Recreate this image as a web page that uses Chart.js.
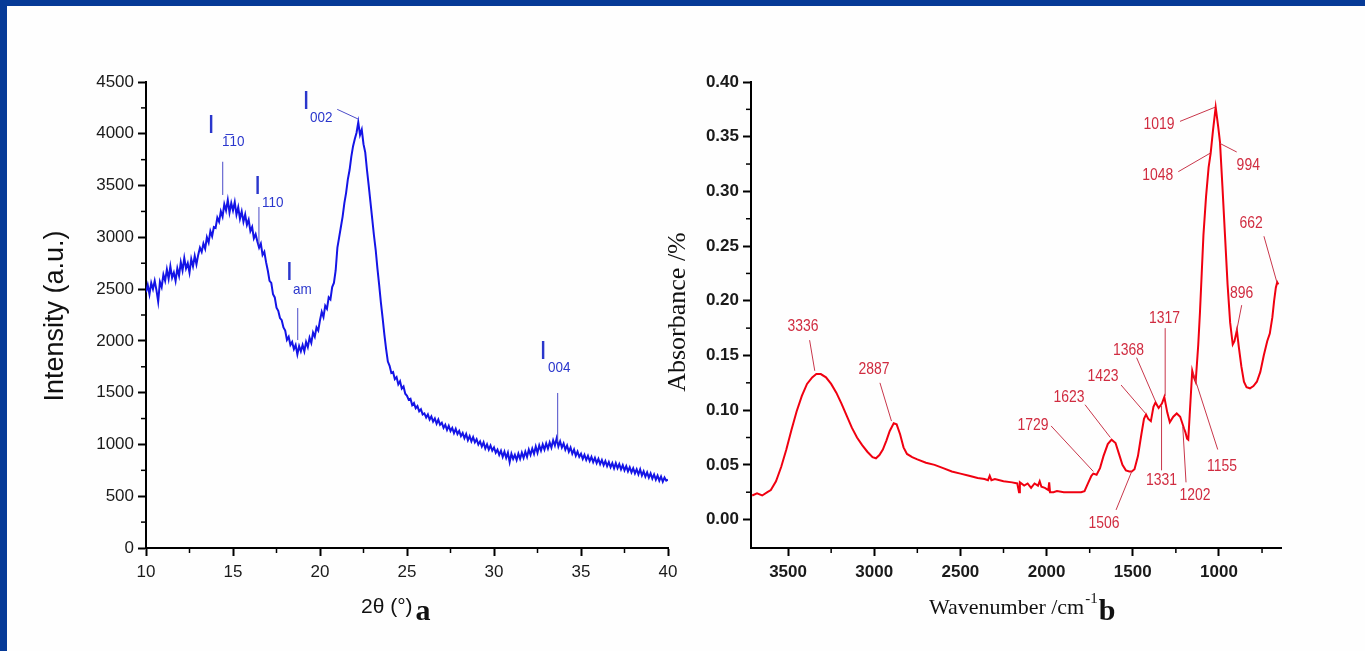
<!DOCTYPE html>
<html>
<head>
<meta charset="utf-8">
<script src="https://cdn.jsdelivr.net/npm/chart.js@4.4.0/dist/chart.umd.min.js"></script>
<style>
  html, body { margin: 0; padding: 0; }
  body { width: 1365px; height: 651px; background: #063a97; position: relative; overflow: hidden; }
  #panel { position: absolute; left: 7px; top: 6px; right: 0; bottom: 0; background: #fefefe; }
  canvas { position: absolute; top: 0; }
  #xrd { left: 0; }
  #ftir { left: 640px; }
</style>
</head>
<body>
<div id="panel"></div>
<canvas id="xrd" width="700" height="651"></canvas>
<canvas id="ftir" width="725" height="651"></canvas>
<script>
// (a) XRD pattern, one reading every 0.1 degree from 10 to 40
const xrdStart = 10;
const xrdStep = 0.1;
const xrdIntensity = [
  2470, 2540, 2450, 2560, 2500, 2580, 2490, 2380, 2570, 2520,
  2640, 2580, 2690, 2600, 2720, 2610, 2660, 2580, 2700, 2630,
  2760, 2680, 2800, 2700, 2750, 2660, 2790, 2720, 2820, 2740,
  2830, 2900, 2860, 2940, 2890, 3000, 2950, 3060, 3010, 3100,
  3090, 3190, 3150, 3250, 3200, 3320, 3260, 3360, 3240, 3330,
  3260, 3340, 3220, 3290, 3180, 3250, 3150, 3220, 3120, 3170,
  3060, 3100, 2990, 3030, 2960, 2900, 2940, 2830, 2860, 2760,
  2680, 2580, 2560, 2450, 2420, 2320, 2290, 2220, 2200, 2130,
  2100, 2010, 2040, 1960, 1990, 1920, 1960, 1870, 1950, 1900,
  1960, 1900, 1990, 1940, 2030, 1980, 2080, 2040, 2130, 2100,
  2200, 2280, 2230, 2340, 2310, 2420, 2400, 2520, 2560, 2680,
  2900, 3000, 3100, 3200, 3330, 3430, 3560, 3650, 3780, 3880,
  3950, 4010, 4110, 3990, 4040, 3900, 3820, 3650, 3500, 3340,
  3180, 3020, 2880, 2700, 2540, 2370, 2220, 2060, 1920, 1800,
  1760, 1690, 1700, 1630, 1650, 1580, 1610, 1540, 1560, 1490,
  1470, 1430, 1440, 1380, 1400, 1350, 1370, 1320, 1340, 1290,
  1300, 1260, 1290, 1240, 1270, 1220, 1250, 1200, 1240, 1190,
  1210, 1160, 1190, 1140, 1180, 1130, 1160, 1110, 1150, 1100,
  1130, 1080, 1110, 1060, 1100, 1040, 1080, 1030, 1070, 1020,
  1050, 1000, 1030, 980, 1020, 960, 1000, 950, 990, 940,
  970, 920, 950, 900, 940, 880, 930, 870, 920, 830,
  910, 860, 900, 850, 910, 860, 920, 870, 930, 880,
  950, 900, 960, 910, 980, 920, 990, 940, 1000, 950,
  1010, 960, 1020, 970, 1040, 990, 1060, 980, 1030, 970,
  1010, 950, 990, 930, 970, 910, 950, 890, 930, 880,
  910, 860, 900, 850, 890, 840, 880, 830, 870, 820,
  860, 810, 850, 800, 840, 790, 830, 780, 820, 770,
  820, 770, 810, 760, 800, 750, 790, 740, 780, 730,
  770, 720, 760, 710, 760, 700, 740, 690, 730, 680,
  720, 670, 710, 660, 700, 650, 690, 640, 680, 650,
  660
];
const xrdXTicks = [10, 15, 20, 25, 30, 35, 40];
const xrdXMinor = [12.5, 17.5, 22.5, 27.5, 32.5, 37.5];
const xrdYTicks = [0, 500, 1000, 1500, 2000, 2500, 3000, 3500, 4000, 4500];
const xrdYMinor = [250, 750, 1250, 1750, 2250, 2750, 3250, 3750, 4250];

// peak labels of (a): subscript text, "I" anchor, subscript anchor, leader line
const xrdNoteSub = ['1\u030510', '110', '002', 'am', '004'];
const xrdNoteI = [[13.74, 4075], [16.42, 3486], [19.2, 4307], [18.24, 2660], [32.82, 1897]];
const xrdNoteSubAt = [[14.37, 3920], [16.67, 3336], [19.43, 4152], [18.45, 2491], [33.1, 1738]];
const xrdNoteLine = [
  [14.41, 3730, 14.41, 3409],
  [16.49, 3293, 16.49, 2926],
  [20.99, 4236, 22.22, 4140],
  [18.72, 2317, 18.72, 2008],
  [33.66, 1497, 33.66, 1024]
];

// (b) FTIR spectrum
const ftirWave = [
  3708, 3680, 3650, 3620, 3600, 3570, 3540, 3510, 3480, 3450,
  3420, 3390, 3360, 3336, 3310, 3280, 3250, 3220, 3190, 3160,
  3130, 3100, 3070, 3040, 3010, 2990, 2970, 2950, 2930, 2910,
  2887, 2870, 2850, 2830, 2810, 2780, 2750, 2700, 2650, 2600,
  2550, 2500, 2450, 2400, 2360, 2340, 2330, 2320, 2300, 2250,
  2200, 2170, 2160, 2155, 2130, 2110, 2090, 2070, 2050, 2040,
  2030, 2010, 1990, 1985, 1980, 1960, 1940, 1900, 1850, 1800,
  1780, 1760, 1740, 1729, 1710, 1690, 1670, 1645, 1623, 1600,
  1580, 1560, 1540, 1520, 1506, 1490, 1470, 1450, 1435, 1423,
  1410, 1395, 1380, 1368, 1350, 1331, 1317, 1300, 1285, 1265,
  1245, 1225, 1202, 1195, 1185, 1178, 1170, 1155, 1145, 1135,
  1120, 1110, 1100, 1090, 1075, 1060, 1048, 1035, 1019, 1005,
  994, 980, 965, 950, 935, 920, 910, 896, 885, 870,
  855, 840, 820, 800, 780, 760, 740, 720, 705, 690,
  680, 670, 662, 655
];
const ftirAbs = [
  0.022, 0.024, 0.022, 0.025, 0.027, 0.035, 0.048, 0.064, 0.082, 0.099,
  0.113, 0.124, 0.130, 0.133, 0.133, 0.130, 0.124, 0.116, 0.106, 0.095,
  0.084, 0.075, 0.068, 0.062, 0.057, 0.056, 0.059, 0.064, 0.072, 0.081,
  0.088, 0.087, 0.078, 0.066, 0.060, 0.057, 0.055, 0.052, 0.050, 0.047,
  0.044, 0.042, 0.040, 0.038, 0.037, 0.036, 0.040, 0.036, 0.037, 0.035,
  0.034, 0.033, 0.025, 0.034, 0.031, 0.033, 0.029, 0.033, 0.031, 0.035,
  0.030, 0.029, 0.027, 0.034, 0.025, 0.025, 0.026, 0.025, 0.025, 0.025,
  0.026, 0.033, 0.040, 0.042, 0.041, 0.047, 0.058, 0.069, 0.073, 0.070,
  0.060, 0.050, 0.045, 0.044, 0.044, 0.046, 0.058, 0.078, 0.092, 0.096,
  0.092, 0.090, 0.103, 0.107, 0.102, 0.106, 0.112, 0.098, 0.089, 0.094,
  0.097, 0.094, 0.083, 0.080, 0.074, 0.073, 0.095, 0.136, 0.130, 0.126,
  0.160, 0.190, 0.225, 0.260, 0.295, 0.322, 0.335, 0.355, 0.377, 0.360,
  0.345, 0.305, 0.260, 0.215, 0.180, 0.160, 0.163, 0.173, 0.158, 0.140,
  0.126, 0.121, 0.120, 0.122, 0.126, 0.135, 0.150, 0.163, 0.170, 0.185,
  0.200, 0.212, 0.217, 0.215
];
const ftirXTicks = [3500, 3000, 2500, 2000, 1500, 1000];
const ftirXMinor = [3250, 2750, 2250, 1750, 1250, 750];
const ftirYTicks = [0, 0.05, 0.10, 0.15, 0.20, 0.25, 0.30, 0.35, 0.40];
const ftirYMinor = [0.025, 0.075, 0.125, 0.175, 0.225, 0.275, 0.325, 0.375];

// band labels of (b): text, text anchor, leader line
const ftirNoteText = ['3336', '2887', '1729', '1623', '1423', '1368', '1317', '1331',
                      '1202', '1155', '1506', '1019', '1048', '994', '662', '896'];
const ftirNoteAt = [
  [3413, 0.177], [3001, 0.137], [2079, 0.0865], [1870, 0.112], [1673, 0.131], [1525, 0.155],
  [1316, 0.184], [1334, 0.036], [1139, 0.0226], [982, 0.049], [1667, -0.003], [1348, 0.361],
  [1355, 0.315], [830, 0.324], [814, 0.271], [868, 0.207]
];
const ftirNoteLine = [
  [3375, 0.164, 3345, 0.136], [2967, 0.125, 2900, 0.090], [1974, 0.0856, 1729, 0.044],
  [1777, 0.105, 1630, 0.075], [1568, 0.123, 1426, 0.097], [1478, 0.148, 1368, 0.108],
  [1312, 0.175, 1312, 0.113], [1333, 0.045, 1333, 0.104], [1191, 0.034, 1210, 0.085],
  [1007, 0.064, 1150, 0.134], [1597, 0.0088, 1506, 0.044], [1226, 0.364, 1022, 0.377],
  [1236, 0.318, 1050, 0.335], [897, 0.336, 996, 0.344], [739, 0.259, 664, 0.217],
  [868, 0.196, 898, 0.172]
];

const SANS = '"Liberation Sans", Arial, sans-serif';
const SERIF = '"Liberation Serif", "Times New Roman", serif';

function minorTicks(ctx, scale, values, len) {
  ctx.save();
  ctx.strokeStyle = '#000';
  ctx.lineWidth = 1.5;
  values.forEach(function(v) {
    const p = scale.getPixelForValue(v);
    ctx.beginPath();
    if (scale.isHorizontal()) {
      ctx.moveTo(p, scale.top);
      ctx.lineTo(p, scale.top + len);
    } else {
      ctx.moveTo(scale.right, p);
      ctx.lineTo(scale.right - len, p);
    }
    ctx.stroke();
  });
  ctx.restore();
}

function narrowText(ctx, text, x, y, sx, align) {
  ctx.save();
  ctx.translate(x, y);
  ctx.scale(sx, 1);
  ctx.textAlign = align;
  ctx.fillText(text, 0, 0);
  ctx.restore();
}

function axisStyle(font, ticks, fmt) {
  return {
    type: 'linear',
    afterBuildTicks: function(scale) {
      scale.ticks = ticks.map(function(v) { return { value: v }; });
    },
    grid: { drawOnChartArea: false, drawTicks: true, tickLength: 8, tickWidth: 2, tickColor: '#000' },
    border: { display: true, color: '#000', width: 2 },
    ticks: { font: font, color: '#1a1a1a', autoSkip: false, maxRotation: 0, padding: 4, callback: fmt }
  };
}

// XRD chart
const xrdX = axisStyle({ family: SANS, size: 17 }, xrdXTicks, function(v) { return String(v); });
xrdX.min = 10; xrdX.max = 40;
xrdX.ticks.padding = 6;
xrdX.afterFit = function(scale) { scale.height = 103; };
const xrdY = axisStyle({ family: SANS, size: 17 }, xrdYTicks, function(v) { return String(v); });
xrdY.min = 0; xrdY.max = 4500;
xrdY.afterFit = function(scale) { scale.width = 146; };

const xrdDecor = {
  id: 'xrdDecor',
  afterDatasetsDraw: function(chart) {
    const ctx = chart.ctx, x = chart.scales.x, y = chart.scales.y;
    minorTicks(ctx, x, xrdXMinor, 5);
    minorTicks(ctx, y, xrdYMinor, 5);
    ctx.save();
    xrdNoteSub.forEach(function(sub, i) {
      const ln = xrdNoteLine[i];
      ctx.strokeStyle = '#4b4bc8';
      ctx.lineWidth = 1;
      ctx.beginPath();
      ctx.moveTo(x.getPixelForValue(ln[0]), y.getPixelForValue(ln[1]));
      ctx.lineTo(x.getPixelForValue(ln[2]), y.getPixelForValue(ln[3]));
      ctx.stroke();
      ctx.fillStyle = '#2a36cc';
      ctx.textBaseline = 'middle';
      ctx.textAlign = 'center';
      ctx.font = '26px ' + SANS;
      ctx.fillText('I', x.getPixelForValue(xrdNoteI[i][0]), y.getPixelForValue(xrdNoteI[i][1]));
      ctx.font = '15px ' + SANS;
      narrowText(ctx, sub, x.getPixelForValue(xrdNoteSubAt[i][0]), y.getPixelForValue(xrdNoteSubAt[i][1]), 0.9, 'left');
    });
    ctx.restore();

    // axis titles
    ctx.save();
    ctx.fillStyle = '#111';
    ctx.font = '27px ' + SANS;
    ctx.textAlign = 'center';
    ctx.textBaseline = 'middle';
    ctx.translate(56, 316);
    ctx.rotate(-Math.PI / 2);
    ctx.fillText('Intensity (a.u.)', 0, 0);
    ctx.restore();

    ctx.save();
    ctx.fillStyle = '#111';
    ctx.textBaseline = 'alphabetic';
    ctx.textAlign = 'left';
    ctx.font = '21px ' + SANS;
    ctx.fillText('2\u03b8 (\u00b0)', 361, 613);
    const w = ctx.measureText('2\u03b8 (\u00b0)').width;
    ctx.font = 'bold 30px ' + SERIF;
    ctx.fillText('a', 361 + w + 3, 620);
    ctx.restore();
  }
};

new Chart(document.getElementById('xrd'), {
  type: 'line',
  data: {
    datasets: [{
      label: 'XRD',
      data: xrdIntensity.map(function(v, i) { return { x: xrdStart + i * xrdStep, y: v }; }),
      borderColor: '#1414e6',
      borderWidth: 2,
      pointRadius: 0,
      tension: 0,
      fill: false
    }]
  },
  options: {
    responsive: false,
    animation: false,
    layout: { padding: { left: 0, top: 82, right: 32, bottom: 0 } },
    plugins: { legend: { display: false }, tooltip: { enabled: false } },
    scales: { x: xrdX, y: xrdY }
  },
  plugins: [xrdDecor]
});

// FTIR chart
const ftirX = axisStyle({ family: SANS, size: 17, weight: 'bold' }, ftirXTicks, function(v) { return String(v); });
ftirX.min = 640; ftirX.max = 3715; ftirX.reverse = true;
ftirX.ticks.padding = 6;
ftirX.afterFit = function(scale) { scale.height = 103; };
const ftirY = axisStyle({ family: SANS, size: 17, weight: 'bold' }, ftirYTicks, function(v) { return v.toFixed(2); });
ftirY.min = -0.026; ftirY.max = 0.40;
ftirY.afterFit = function(scale) { scale.width = 111; };

const ftirDecor = {
  id: 'ftirDecor',
  afterDatasetsDraw: function(chart) {
    const ctx = chart.ctx, x = chart.scales.x, y = chart.scales.y;
    minorTicks(ctx, x, ftirXMinor, 5);
    minorTicks(ctx, y, ftirYMinor, 5);
    ctx.save();
    ftirNoteText.forEach(function(t, i) {
      const ln = ftirNoteLine[i];
      ctx.strokeStyle = '#c8364a';
      ctx.lineWidth = 1;
      ctx.beginPath();
      ctx.moveTo(x.getPixelForValue(ln[0]), y.getPixelForValue(ln[1]));
      ctx.lineTo(x.getPixelForValue(ln[2]), y.getPixelForValue(ln[3]));
      ctx.stroke();
      ctx.fillStyle = '#d02c40';
      ctx.textBaseline = 'middle';
      ctx.font = '17px ' + SANS;
      narrowText(ctx, t, x.getPixelForValue(ftirNoteAt[i][0]), y.getPixelForValue(ftirNoteAt[i][1]), 0.82, 'center');
    });
    ctx.restore();

    ctx.save();
    ctx.fillStyle = '#111';
    ctx.font = '26px ' + SERIF;
    ctx.textAlign = 'center';
    ctx.textBaseline = 'middle';
    ctx.translate(38, 312);
    ctx.rotate(-Math.PI / 2);
    ctx.fillText('Absorbance /%', 0, 0);
    ctx.restore();

    ctx.save();
    ctx.fillStyle = '#111';
    ctx.textBaseline = 'alphabetic';
    ctx.textAlign = 'left';
    ctx.font = '22px ' + SERIF;
    ctx.fillText('Wavenumber /cm', 289, 614);
    let cx = 289 + ctx.measureText('Wavenumber /cm').width + 1;
    ctx.font = '15px ' + SERIF;
    ctx.fillText('-1', cx, 603);
    cx += ctx.measureText('-1').width + 1;
    ctx.font = 'bold 30px ' + SERIF;
    ctx.fillText('b', cx, 620);
    ctx.restore();
  }
};

new Chart(document.getElementById('ftir'), {
  type: 'line',
  data: {
    datasets: [{
      label: 'FTIR',
      data: ftirWave.map(function(w, i) { return { x: w, y: ftirAbs[i] }; }),
      borderColor: '#f00010',
      borderWidth: 2,
      pointRadius: 0,
      tension: 0,
      fill: false
    }]
  },
  options: {
    responsive: false,
    animation: false,
    layout: { padding: { left: 0, top: 82, right: 84, bottom: 0 } },
    plugins: { legend: { display: false }, tooltip: { enabled: false } },
    scales: { x: ftirX, y: ftirY }
  },
  plugins: [ftirDecor]
});
</script>
</body>
</html>
